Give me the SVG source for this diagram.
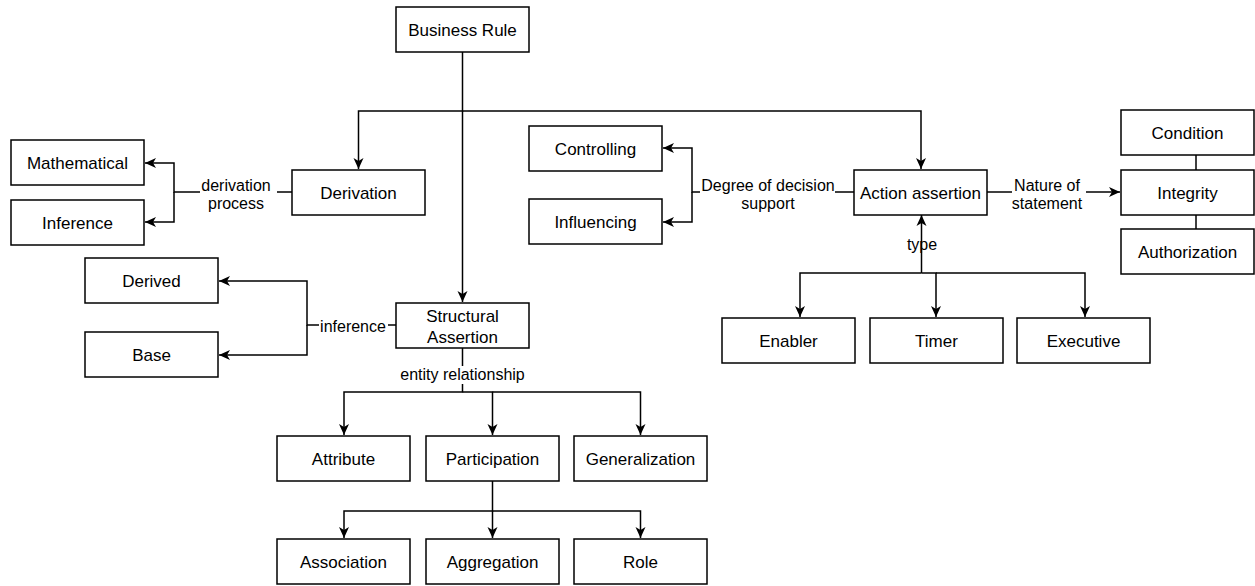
<svg xmlns="http://www.w3.org/2000/svg" width="1255" height="586" viewBox="0 0 1255 586">
  <style>
    .node rect { fill: #ffffff; stroke: #000000; stroke-width: 1.5; }
    .node text { font-family: "Liberation Sans", Arial, sans-serif; font-size: 17px; fill: #000000; text-anchor: middle; }
    .edge { fill: none; stroke: #000000; stroke-width: 1.5; }
    .lbl-bg { fill: #ffffff; stroke: none; }
    .lbl { font-family: "Liberation Sans", Arial, sans-serif; font-size: 16px; fill: #000000; text-anchor: middle; }
  </style>
  <defs>
    <marker id="arrow" markerUnits="userSpaceOnUse" markerWidth="12" markerHeight="12" viewBox="0 0 12 12" refX="11" refY="6" orient="auto">
      <path d="M0,1 L11,6 L0,11 L3,6 z" fill="#000000"/>
    </marker>
  </defs>

  <rect width="1255" height="586" fill="#ffffff"/>

  <!-- connectors -->
  <g id="connectors">
    <!-- Business Rule to its three kinds -->
    <path class="edge" d="M462.5,52 V111 H358.5 V169" marker-end="url(#arrow)"/>
    <path class="edge" d="M462.5,111 H921 V169" marker-end="url(#arrow)"/>
    <path class="edge" d="M462.5,111 V302" marker-end="url(#arrow)"/>

    <!-- Derivation: derivation process -->
    <path class="edge" d="M292,192 H174 V163 H145" marker-end="url(#arrow)"/>
    <path class="edge" d="M174,192 V222 H145" marker-end="url(#arrow)"/>

    <!-- Action assertion: degree of decision support -->
    <path class="edge" d="M854,192 H692 V148 H663" marker-end="url(#arrow)"/>
    <path class="edge" d="M692,192 V222 H663" marker-end="url(#arrow)"/>

    <!-- Action assertion: nature of statement -->
    <path class="edge" d="M987,192 H1120" marker-end="url(#arrow)"/>

    <!-- Integrity links -->
    <path class="edge" d="M1196,155 V170"/>
    <path class="edge" d="M1196,215 V229"/>

    <!-- Action assertion: type -->
    <path class="edge" d="M921.5,273 V215" marker-end="url(#arrow)"/>
    <path class="edge" d="M921.5,273 H800 V317" marker-end="url(#arrow)"/>
    <path class="edge" d="M921.5,273 H936 V317" marker-end="url(#arrow)"/>
    <path class="edge" d="M936,273 H1085 V317" marker-end="url(#arrow)"/>

    <!-- Structural Assertion: inference -->
    <path class="edge" d="M396,325 H307 V281 H219" marker-end="url(#arrow)"/>
    <path class="edge" d="M307,325 V355 H219" marker-end="url(#arrow)"/>

    <!-- Structural Assertion: entity relationship -->
    <path class="edge" d="M462.5,348 V392 H344 V435" marker-end="url(#arrow)"/>
    <path class="edge" d="M462.5,392 H492.5 V435" marker-end="url(#arrow)"/>
    <path class="edge" d="M492.5,392 H640.5 V435" marker-end="url(#arrow)"/>

    <!-- Participation -->
    <path class="edge" d="M492.5,481 V511 H344 V538" marker-end="url(#arrow)"/>
    <path class="edge" d="M492.5,511 V538" marker-end="url(#arrow)"/>
    <path class="edge" d="M492.5,511 H640.5 V538" marker-end="url(#arrow)"/>

    <!-- connector labels -->
    <rect class="lbl-bg" x="200" y="176" width="77" height="36"/>
    <text class="lbl" x="236" y="191">derivation</text>
    <text class="lbl" x="236" y="209">process</text>

    <rect class="lbl-bg" x="700" y="176" width="135" height="36"/>
    <text class="lbl" x="768" y="191">Degree of decision</text>
    <text class="lbl" x="768" y="209">support</text>

    <rect class="lbl-bg" x="1012" y="176" width="74" height="36"/>
    <text class="lbl" x="1047" y="191">Nature of</text>
    <text class="lbl" x="1047" y="209">statement</text>

    <rect class="lbl-bg" x="319" y="317" width="69" height="19"/>
    <text class="lbl" x="353" y="332">inference</text>

    <rect class="lbl-bg" x="399" y="366" width="128" height="18"/>
    <text class="lbl" x="462.5" y="380">entity relationship</text>

    <text class="lbl" x="922" y="250">type</text>
  </g>

  <!-- nodes -->
  <g id="business-rule" class="node"><rect x="396" y="7" width="133" height="45"/><text x="462.5" y="35.5">Business Rule</text></g>
  <g id="derivation" class="node"><rect x="292" y="170" width="133" height="45"/><text x="358.5" y="198.5">Derivation</text></g>
  <g id="mathematical" class="node"><rect x="11" y="140" width="133" height="45"/><text x="77.5" y="168.5">Mathematical</text></g>
  <g id="inference" class="node"><rect x="11" y="200" width="133" height="45"/><text x="77.5" y="228.5">Inference</text></g>
  <g id="controlling" class="node"><rect x="529" y="126" width="133" height="45"/><text x="595.5" y="154.5">Controlling</text></g>
  <g id="influencing" class="node"><rect x="529" y="199" width="133" height="45"/><text x="595.5" y="227.5">Influencing</text></g>
  <g id="action-assertion" class="node"><rect x="854" y="170" width="133" height="45"/><text x="920.5" y="198.5">Action assertion</text></g>
  <g id="condition" class="node"><rect x="1121" y="110" width="133" height="45"/><text x="1187.5" y="138.5">Condition</text></g>
  <g id="integrity" class="node"><rect x="1121" y="170" width="133" height="45"/><text x="1187.5" y="198.5">Integrity</text></g>
  <g id="authorization" class="node"><rect x="1121" y="229" width="133" height="45"/><text x="1187.5" y="257.5">Authorization</text></g>
  <g id="enabler" class="node"><rect x="722" y="318" width="133" height="45"/><text x="788.5" y="346.5">Enabler</text></g>
  <g id="timer" class="node"><rect x="870" y="318" width="133" height="45"/><text x="936.5" y="346.5">Timer</text></g>
  <g id="executive" class="node"><rect x="1017" y="318" width="133" height="45"/><text x="1083.5" y="346.5">Executive</text></g>
  <g id="derived" class="node"><rect x="85" y="258" width="133" height="45"/><text x="151.5" y="286.5">Derived</text></g>
  <g id="base" class="node"><rect x="85" y="332" width="133" height="45"/><text x="151.5" y="360.5">Base</text></g>
  <g id="structural-assertion" class="node"><rect x="396" y="303" width="133" height="45"/><text x="462.5" y="322">Structural</text><text x="462.5" y="343">Assertion</text></g>
  <g id="attribute" class="node"><rect x="277" y="436" width="133" height="45"/><text x="343.5" y="464.5">Attribute</text></g>
  <g id="participation" class="node"><rect x="426" y="436" width="133" height="45"/><text x="492.5" y="464.5">Participation</text></g>
  <g id="generalization" class="node"><rect x="574" y="436" width="133" height="45"/><text x="640.5" y="464.5">Generalization</text></g>
  <g id="association" class="node"><rect x="277" y="539" width="133" height="45"/><text x="343.5" y="567.5">Association</text></g>
  <g id="aggregation" class="node"><rect x="426" y="539" width="133" height="45"/><text x="492.5" y="567.5">Aggregation</text></g>
  <g id="role" class="node"><rect x="574" y="539" width="133" height="45"/><text x="640.5" y="567.5">Role</text></g>
</svg>
